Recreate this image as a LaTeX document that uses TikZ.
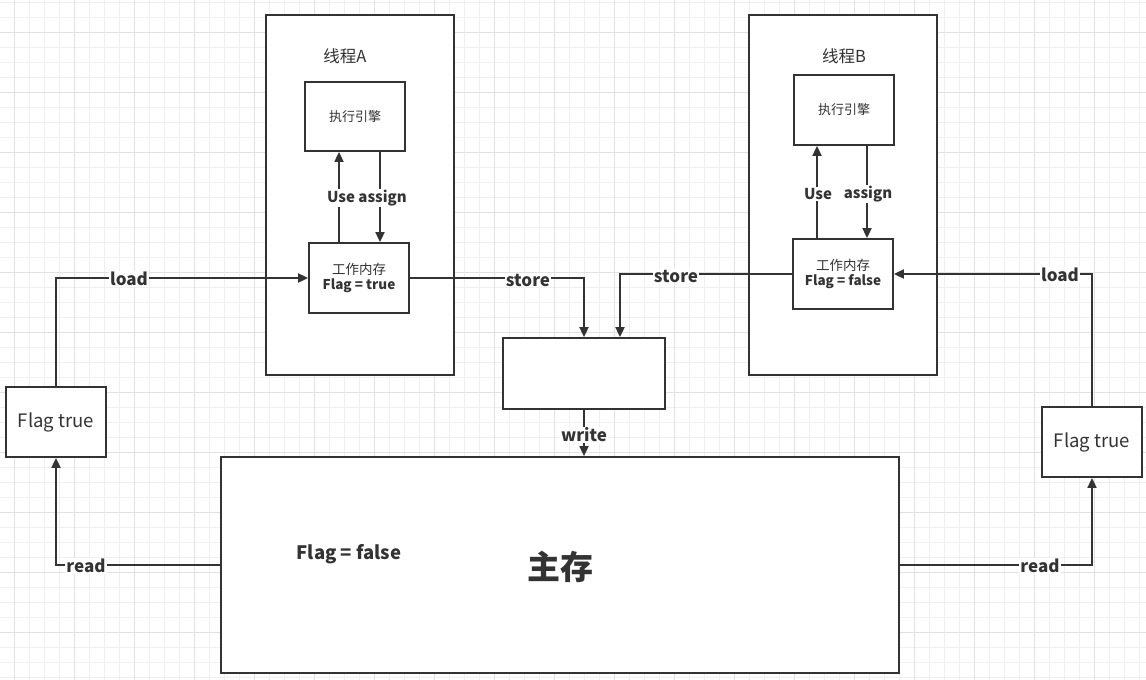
\documentclass[tikz,border=0pt]{standalone}
\usepackage{fontspec}
\setmainfont{Noto Sans CJK SC}
\usetikzlibrary{arrows.meta,calc}
\definecolor{ink}{HTML}{333333}
\definecolor{gmin}{HTML}{EFEFEF}
\definecolor{gmaj}{HTML}{E2E2E2}
\begin{document}
\begin{tikzpicture}[x=1pt,y=-1pt,
 box/.style={draw=ink,line width=1.8pt,fill=white,inner sep=0pt,text=ink,align=center},
 arr/.style={draw=ink,line width=1.8pt,-{Triangle[length=10pt,width=9pt]}},
 lbl/.style={fill=white,inner sep=1pt,text=ink,font=\fontsize{17}{19}\selectfont\bfseries},
 small/.style={fill=white,inner sep=1pt,text=ink,font=\fontsize{15}{17}\selectfont\bfseries},
 title/.style={text=ink,font=\fontsize{16.5}{18}\selectfont},
]
\useasboundingbox (0,0) rectangle (1146,680);
\fill[white] (0,0) rectangle (1146,680);
\foreach \x in {-1,14,...,1146} \draw[gmin,line width=1pt] (\x,0)--(\x,680);
\foreach \y in {2,17,...,680} \draw[gmin,line width=1pt] (0,\y)--(1146,\y);
\foreach \x in {14,74,...,1146} \draw[gmaj,line width=1pt] (\x,0)--(\x,680);
\foreach \y in {32,92,...,680} \draw[gmaj,line width=1pt] (0,\y)--(1146,\y);

% thread boxes
\node[box,minimum width=188,minimum height=360] (tA) at (360,195) {};
\node[box,minimum width=188,minimum height=360] (tB) at (843,195) {};
\node[title] (tAt) at (345,56) {线程A};
\node[title] (tBt) at (844,56) {线程B};

\node[box,minimum width=100,minimum height=69,font=\fontsize{13}{16}\selectfont] (eA) at (355,116.5) {执行引擎};
\node[box,minimum width=100,minimum height=70,font=\fontsize{13.5}{16}\selectfont] (wA) at (359,278) {工作内存\\[-1pt]\textbf{Flag = true}};
\node[box,minimum width=100,minimum height=70,font=\fontsize{13}{16}\selectfont] (eB) at (844,110) {执行引擎};
\node[box,minimum width=100,minimum height=70,font=\fontsize{13.5}{16}\selectfont] (wB) at (843,274) {工作内存\\[-1pt]\textbf{Flag = false}};

\node[box,minimum width=100,minimum height=70,font=\fontsize{18.5}{20}\selectfont] (fL) at (56,422) {Flag true};
\node[box,minimum width=100,minimum height=70,font=\fontsize{18.5}{20}\selectfont] (fR) at (1092,442) {Flag true};
\node[box,minimum width=162,minimum height=71] (mid) at (584,373.5) {};
\node[box,minimum width=678,minimum height=216] (mem) at (560,565) {};
\node[text=ink,font=\fontsize{18.5}{20}\selectfont\bfseries] (memf) at (349,554) {Flag = false};
\node[text=ink,font=\fontsize{33}{36}\selectfont\bfseries] (memt) at (560,567) {主存};

% connectors
\draw[arr] (fL.north) |- (wA.west);
\draw[arr] (mem.west) -| (fL.south);
\draw[arr] (wA.east) -| (mid.north);
\draw[arr] (wB.west) -| ($(mid.north)+(36,0)$);
\draw[arr] (mid.south) -- (mid.south |- mem.north);
\draw[arr] (fR.north) |- (wB.east);
\draw[arr] (mem.east) -| (fR.south);
\draw[arr] ($(wA.north)+(-20,0)$) -- ($(eA.south)+(-16,0)$);
\draw[arr] ($(eA.south)+(25,0)$) -- ($(wA.north)+(21,0)$);
\draw[arr] ($(wB.north)+(-26,0)$) -- ($(eB.south)+(-27,0)$);
\draw[arr] ($(eB.south)+(23,0)$) -- ($(wB.north)+(24,0)$);

% labels
\node[small] (lUA) at (367,198) {Use assign};
\node[small] (lUB) at (818,194) {Use};
\node[small] (lAB) at (868,194) {assign};
\node[lbl] (l1) at (129,279) {load};
\node[lbl] (l2) at (528,280) {store};
\node[lbl] (l3) at (676,276) {store};
\node[lbl] (l4) at (584,435) {write};
\node[lbl] (l5) at (1060,275) {load};
\node[lbl] (l6) at (86,566) {read};
\node[lbl] (l7) at (1040,566) {read};
\end{tikzpicture}
\end{document}
